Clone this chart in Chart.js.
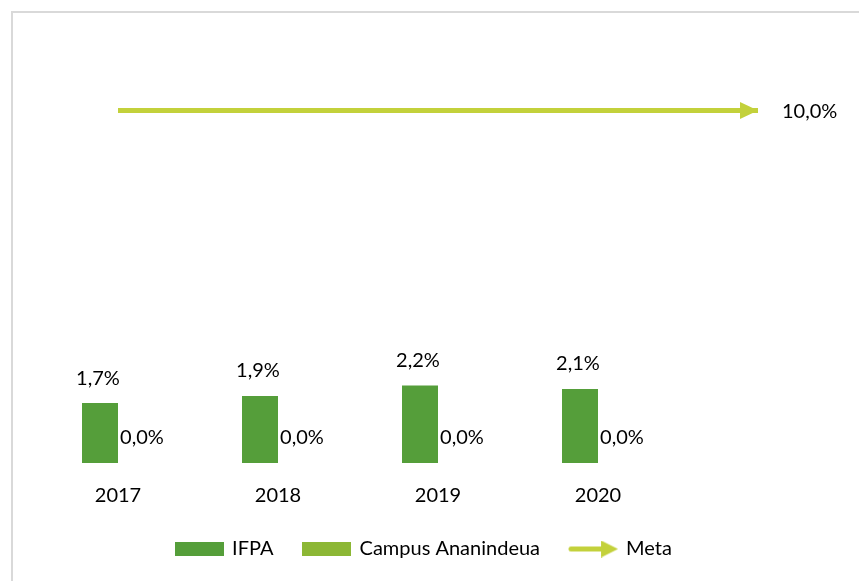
<!DOCTYPE html>
<html>
<head>
<meta charset="utf-8">
<script src="https://cdn.jsdelivr.net/npm/chart.js@4.4.0/dist/chart.umd.min.js"></script>
<style>
  html, body { margin: 0; padding: 0; background: #fff; }
  #wrap { position: relative; width: 859px; height: 581px; overflow: hidden; }
  #frame { position: absolute; left: 11px; top: 11px; width: 900px; height: 700px;
           border-left: 2px solid #d9d9d9; border-top: 2px solid #d9d9d9; }
  canvas { position: absolute; left: 0; top: 0; }
</style>
</head>
<body>
<div id="wrap">
  <div id="frame"></div>
  <canvas id="myChart" width="859" height="581"></canvas>
</div>
<script>
// data
const years = ['2017', '2018', '2019', '2020', ''];
const ifpa = [1.7, 1.9, 2.2, 2.1, null];
const campus = [0.0, 0.0, 0.0, 0.0, null];
const meta = [10, 10, 10, 10, 10];

const FONT = 'Lato';
const FSIZE = 20;
const green = '#559e3a';
const lightGreen = '#8cb735';
const metaColor = '#c3d13b';

function fmt(v) {
    return v.toFixed(1).replace('.', ',') + '%';
}

// little canvases used as legend symbols / arrow head
function rectIcon(color) {
    const c = document.createElement('canvas');
    c.width = 49; c.height = 14;
    const g = c.getContext('2d');
    g.fillStyle = color;
    g.fillRect(0, 0, 49, 14);
    return c;
}

function arrowIcon() {
    const c = document.createElement('canvas');
    c.width = 50; c.height = 17;
    const g = c.getContext('2d');
    g.fillStyle = metaColor;
    g.strokeStyle = metaColor;
    g.lineWidth = 5;
    g.lineCap = 'round';
    g.beginPath();
    g.moveTo(3, 8.5); g.lineTo(36, 8.5);
    g.stroke();
    g.beginPath();
    g.moveTo(33, 0); g.lineTo(50, 8.5); g.lineTo(33, 17);
    g.closePath();
    g.fill();
    return c;
}

function arrowHead() {
    // tip sits at the centre of the canvas so it lands on the data point
    const c = document.createElement('canvas');
    c.width = 36; c.height = 17;
    const g = c.getContext('2d');
    g.fillStyle = metaColor;
    g.beginPath();
    g.moveTo(0, 0); g.lineTo(18, 8.5); g.lineTo(0, 17);
    g.closePath();
    g.fill();
    return c;
}

const legendIcons = [rectIcon(green), rectIcon(lightGreen), arrowIcon()];
const head = arrowHead();

const valueLabels = {
    id: 'valueLabels',
    afterDatasetsDraw(chart) {
        const ctx = chart.ctx;
        ctx.save();
        ctx.font = FSIZE + 'px ' + FONT;
        ctx.fillStyle = '#000';
        ctx.textBaseline = 'middle';
        // IFPA
        chart.getDatasetMeta(0).data.forEach((el, i) => {
            if (ifpa[i] === null) return;
            ctx.textAlign = 'center';
            ctx.fillText(fmt(ifpa[i]), el.x - 2, el.y - 25);
        });
        // Campus
        chart.getDatasetMeta(1).data.forEach((el, i) => {
            if (campus[i] === null) return;
            ctx.textAlign = 'center';
            ctx.fillText(fmt(campus[i]), el.x + 6, el.y - 25);
        });
        // Meta: only last point, to the right
        const pts = chart.getDatasetMeta(2).data;
        const last = pts[pts.length - 1];
        ctx.textAlign = 'left';
        ctx.fillText(fmt(meta[meta.length - 1]), last.x + 24, last.y + 1);
        ctx.restore();
    }
};

const ctx = document.getElementById('myChart').getContext('2d');
const myChart = new Chart(ctx, {
    type: 'bar',
    data: {
        labels: years,
        datasets: [{
            label: 'IFPA',
            data: ifpa,
            backgroundColor: green,
            categoryPercentage: 0.45,
            barPercentage: 1.0,
            order: 2
        }, {
            label: 'Campus Ananindeua',
            data: campus,
            backgroundColor: lightGreen,
            categoryPercentage: 0.45,
            barPercentage: 1.0,
            order: 2
        }, {
            type: 'line',
            label: 'Meta',
            data: meta,
            borderColor: metaColor,
            borderWidth: 5,
            borderCapStyle: 'butt',
            pointRadius: [0, 0, 0, 0, 9],
            pointStyle: [false, false, false, false, head],
            order: 1
        }]
    },
    options: {
        responsive: false,
        animation: false,
        layout: { padding: { left: 10, right: 21, top: 40, bottom: 12 } },
        scales: {
            x: {
                grid: { display: false, drawTicks: false },
                border: { display: false },
                ticks: { color: '#000', font: { family: FONT, size: FSIZE }, padding: 21 },
                afterFit(scale) { scale.height = 46; }
            },
            y: {
                min: 0,
                max: 12,
                grid: { display: false, drawTicks: false },
                border: { display: false },
                ticks: { display: false },
                afterFit(scale) { scale.width = 28; }
            }
        },
        plugins: {
            tooltip: { enabled: false },
            legend: {
                position: 'bottom',
                labels: {
                    color: '#000',
                    font: { family: FONT, size: FSIZE },
                    usePointStyle: true,
                    pointStyleWidth: 46,
                    padding: 30,
                    sort: (a, b) => a.datasetIndex - b.datasetIndex,
                    generateLabels(chart) {
                        const items = Chart.defaults.plugins.legend.labels.generateLabels(chart);
                        items.forEach((it) => { it.pointStyle = legendIcons[it.datasetIndex]; it.rotation = 0; });
                        return items;
                    }
                }
            }
        }
    },
    plugins: [valueLabels]
});
</script>
</body>
</html>
